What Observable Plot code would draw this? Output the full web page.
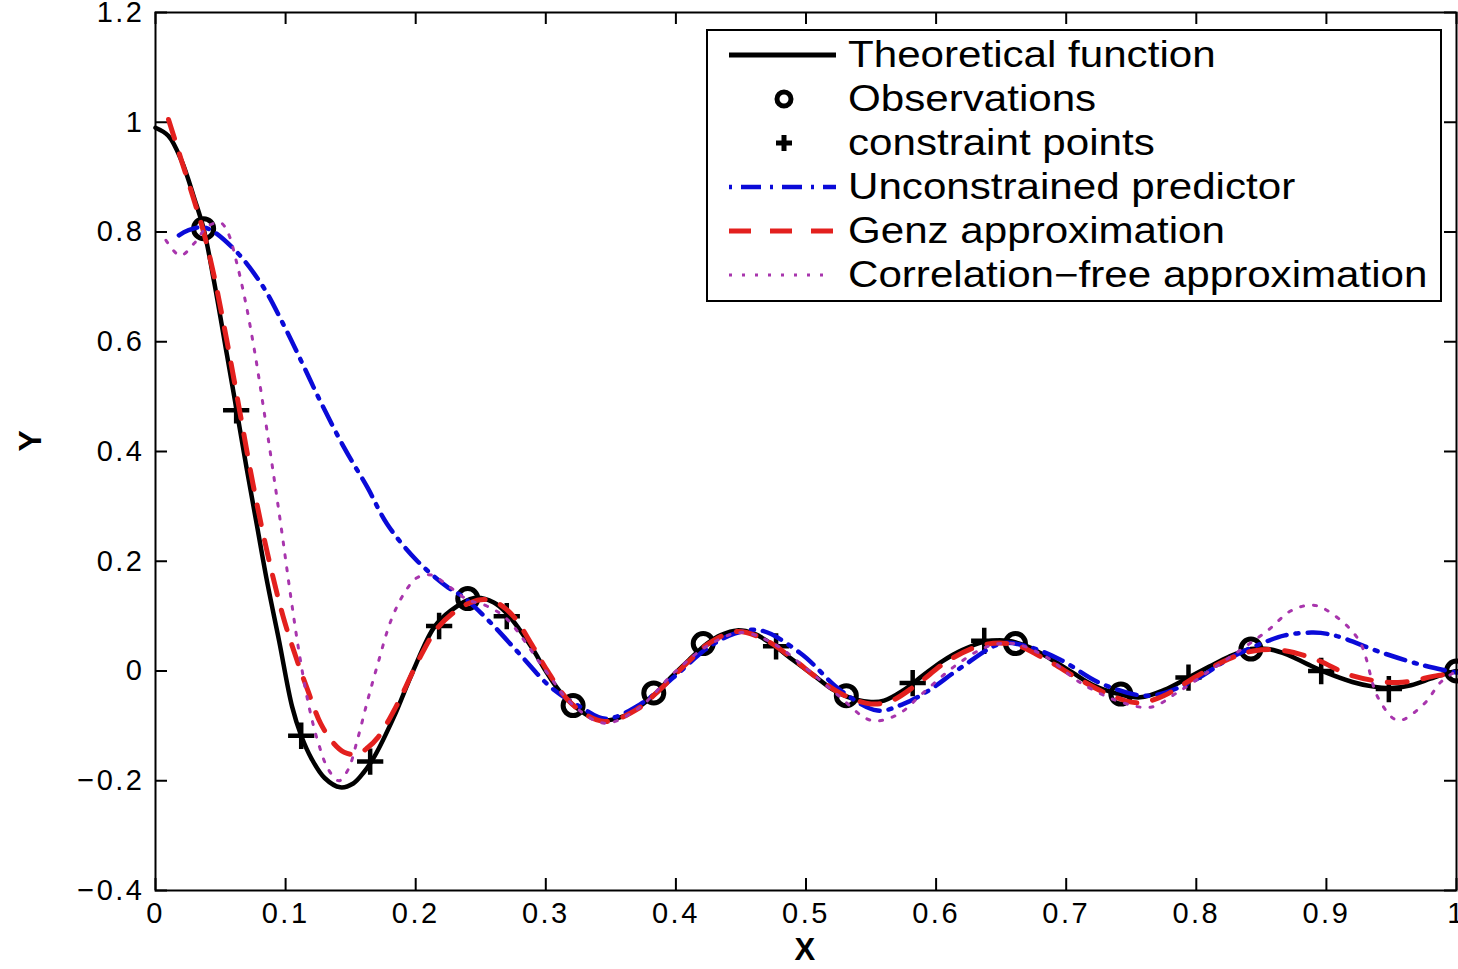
<!DOCTYPE html>
<html><head><meta charset="utf-8">
<script src="https://cdn.jsdelivr.net/npm/d3@7"></script>
<script src="https://cdn.jsdelivr.net/npm/@observablehq/plot@0.6"></script>
<style>
body{margin:0;background:#fff;}
#wrap{position:relative;width:1458px;height:969px;overflow:hidden;background:#fff;}
#legend{position:absolute;left:706px;top:29px;width:732px;height:269px;border:2px solid #000;background:#fff;}
.row{position:absolute;left:0;height:44px;width:100%;}
.row svg{position:absolute;left:0;top:0;overflow:visible;}
.row span{position:absolute;left:140px;top:50%;transform:translateY(-50%) scaleX(1.17);transform-origin:left center;font:36px "Liberation Sans",Arial,sans-serif;white-space:nowrap;line-height:1;color:#000;}
</style></head>
<body><div id="wrap"></div>
<script>
// ---- data ----
const theoX = [0, 0.01, 0.02, 0.03, 0.037, 0.045, 0.055, 0.062, 0.07, 0.078, 0.086, 0.095, 0.105, 0.112, 0.12, 0.13, 0.142, 0.152, 0.16, 0.168, 0.183, 0.198, 0.214, 0.227, 0.245, 0.26, 0.27, 0.28, 0.29, 0.30, 0.31, 0.32, 0.333, 0.345, 0.36, 0.372, 0.385, 0.396, 0.41, 0.424, 0.435, 0.447, 0.46, 0.475, 0.49, 0.506, 0.52, 0.532, 0.548, 0.56, 0.575, 0.59, 0.605, 0.62, 0.637, 0.655, 0.67, 0.688, 0.705, 0.72, 0.742, 0.757, 0.775, 0.794, 0.81, 0.825, 0.842, 0.855, 0.87, 0.885, 0.9, 0.92, 0.935, 0.95, 0.965, 0.98, 0.99, 1.0];
const theoY = [0.99, 0.975, 0.93, 0.86, 0.806, 0.71, 0.575, 0.48, 0.37, 0.265, 0.16, 0.055, -0.065, -0.118, -0.16, -0.195, -0.212, -0.205, -0.185, -0.157, -0.085, 0.0, 0.079, 0.11, 0.133, 0.125, 0.105, 0.075, 0.04, 0.0, -0.035, -0.06, -0.082, -0.09, -0.082, -0.065, -0.04, -0.012, 0.02, 0.05, 0.066, 0.074, 0.068, 0.047, 0.02, -0.008, -0.033, -0.047, -0.056, -0.054, -0.035, -0.008, 0.018, 0.038, 0.053, 0.055, 0.045, 0.022, -0.003, -0.025, -0.043, -0.048, -0.035, -0.012, 0.008, 0.026, 0.04, 0.04, 0.03, 0.013, -0.003, -0.02, -0.028, -0.031, -0.026, -0.014, -0.006, 0.0];

const obsX = [0.037, 0.24, 0.321, 0.383, 0.421, 0.531, 0.661, 0.742, 0.842, 1.0];
const obsY = [0.806, 0.132, -0.063, -0.04, 0.05, -0.045, 0.05, -0.042, 0.04, 0.0];

const conX = [0.062, 0.112, 0.165, 0.218, 0.27, 0.477, 0.582, 0.637, 0.794, 0.896, 0.948];
const conY = [0.475, -0.118, -0.165, 0.082, 0.1, 0.045, -0.022, 0.055, -0.012, 0.0, -0.033];

const uncX = [0.018, 0.025, 0.038, 0.059, 0.082, 0.098, 0.113, 0.127, 0.145, 0.163, 0.178, 0.201, 0.225, 0.237, 0.258, 0.281, 0.304, 0.327, 0.346, 0.373, 0.398, 0.425, 0.445, 0.465, 0.496, 0.527, 0.555, 0.575, 0.594, 0.619, 0.65, 0.67, 0.696, 0.727, 0.763, 0.796, 0.827, 0.85, 0.868, 0.89, 0.906, 0.942, 0.975, 1.0];
const uncY = [0.794, 0.803, 0.808, 0.772, 0.703, 0.633, 0.56, 0.49, 0.407, 0.334, 0.268, 0.201, 0.152, 0.134, 0.087, 0.028, -0.03, -0.066, -0.087, -0.06, -0.012, 0.043, 0.068, 0.074, 0.032, -0.036, -0.072, -0.06, -0.036, 0.006, 0.05, 0.045, 0.02, -0.023, -0.045, -0.02, 0.025, 0.05, 0.065, 0.07, 0.065, 0.034, 0.01, -0.003];

const genzX = [0.01, 0.02, 0.03, 0.037, 0.045, 0.055, 0.065, 0.075, 0.086, 0.098, 0.108, 0.117, 0.127, 0.137, 0.145, 0.155, 0.163, 0.171, 0.186, 0.202, 0.217, 0.235, 0.25, 0.262, 0.275, 0.29, 0.30, 0.32, 0.345, 0.37, 0.385, 0.41, 0.424, 0.447, 0.47, 0.49, 0.51, 0.53, 0.55, 0.565, 0.585, 0.61, 0.637, 0.66, 0.685, 0.71, 0.735, 0.755, 0.775, 0.8, 0.825, 0.845, 0.868, 0.894, 0.919, 0.955, 0.986, 1.0];
const genzY = [1.005, 0.93, 0.855, 0.80, 0.72, 0.6, 0.47, 0.34, 0.215, 0.1, 0.025, -0.035, -0.096, -0.132, -0.148, -0.152, -0.14, -0.121, -0.06, 0.019, 0.079, 0.116, 0.13, 0.125, 0.1, 0.045, 0.005, -0.06, -0.092, -0.07, -0.04, 0.018, 0.048, 0.072, 0.055, 0.022, -0.015, -0.045, -0.06, -0.055, -0.025, 0.02, 0.048, 0.048, 0.02, -0.015, -0.045, -0.058, -0.045, -0.01, 0.022, 0.037, 0.037, 0.019, -0.008, -0.021, -0.008, -0.005];

const cfX = [0.008, 0.019, 0.03, 0.04, 0.05, 0.056, 0.062, 0.069, 0.076, 0.083, 0.09, 0.097, 0.104, 0.111, 0.118, 0.125, 0.133, 0.141, 0.148, 0.155, 0.163, 0.171, 0.181, 0.191, 0.201, 0.212, 0.225, 0.24, 0.255, 0.27, 0.3, 0.32, 0.345, 0.37, 0.4, 0.425, 0.45, 0.475, 0.5, 0.525, 0.55, 0.57, 0.59, 0.615, 0.64, 0.66, 0.685, 0.71, 0.74, 0.765, 0.785, 0.81, 0.835, 0.855, 0.873, 0.89, 0.904, 0.925, 0.94, 0.955, 0.975, 0.988, 1.0];
const cfY = [0.785, 0.757, 0.78, 0.81, 0.817, 0.797, 0.748, 0.675, 0.585, 0.48, 0.37, 0.255, 0.135, 0.025, -0.065, -0.13, -0.18, -0.2, -0.18, -0.127, -0.054, 0.014, 0.092, 0.141, 0.17, 0.175, 0.155, 0.13, 0.118, 0.095, 0.0, -0.06, -0.095, -0.07, 0.0, 0.047, 0.07, 0.05, 0.005, -0.045, -0.09, -0.08, -0.04, 0.01, 0.045, 0.05, 0.025, -0.02, -0.055, -0.066, -0.04, 0.0, 0.04, 0.074, 0.11, 0.12, 0.105, 0.056, -0.05, -0.09, -0.06, -0.02, 0.0];

const xTicks = [0, 0.1, 0.2, 0.3, 0.4, 0.5, 0.6, 0.7, 0.8, 0.9, 1];
const xTickLabels = ["0", "0.1", "0.2", "0.3", "0.4", "0.5", "0.6", "0.7", "0.8", "0.9", "1"];
const yTicks = [-0.4, -0.2, 0, 0.2, 0.4, 0.6, 0.8, 1, 1.2];
const yTickLabels = ["\u22120.4", "\u22120.2", "0", "0.2", "0.4", "0.6", "0.8", "1", "1.2"];
const xLabel = "X";
const yLabel = "Y";
const seriesNames = ["Theoretical function", "Observations", "constraint points", "Unconstrained predictor", "Genz approximation", "Correlation\u2212free approximation"];

// ---- build ----
const pts = (xs, ys) => xs.map((x, i) => ({x, y: ys[i]}));
const theo = pts(theoX, theoY), obs = pts(obsX, obsY), con = pts(conX, conY);
const unc = pts(uncX, uncY), genz = pts(genzX, genzY), cf = pts(cfX, cfY);

const W = 1458, H = 969, mL = 155, mR = 2, mT = 12, mB = 79;
const innerW = W - mL - mR, innerH = H - mT - mB, tk = 12;
const font = "'Liberation Sans', Arial, sans-serif";
const BLUE = "#0a0ad8", RED = "#e3201e", MAG = "#a835ad";

const chart = Plot.plot({
  width: W, height: H,
  marginLeft: mL, marginRight: mR, marginTop: mT, marginBottom: mB,
  style: {fontFamily: font, background: "#fff", color: "#000", letterSpacing: "2.5px"},
  x: {domain: [0, 1]},
  y: {domain: [-0.4, 1.2]},
  marks: [
    Plot.axisX({ticks: xTicks, tickFormat: d => xTickLabels[xTicks.indexOf(d)], tickSize: 0, tickPadding: 12, fontSize: 29, label: null}),
    Plot.axisY({ticks: yTicks, tickFormat: d => yTickLabels[yTicks.findIndex(t => Math.abs(t - d) < 1e-9)], tickSize: 0, tickPadding: 11, fontSize: 29, label: null}),
    Plot.tickX(xTicks, {x: d => d, insetTop: innerH - tk, stroke: "#000", strokeWidth: 2}),
    Plot.tickX(xTicks, {x: d => d, insetBottom: innerH - tk, stroke: "#000", strokeWidth: 2}),
    Plot.tickY(yTicks, {y: d => d, insetRight: innerW - tk, stroke: "#000", strokeWidth: 2}),
    Plot.tickY(yTicks, {y: d => d, insetLeft: innerW - tk, stroke: "#000", strokeWidth: 2}),
    Plot.line(theo, {x: "x", y: "y", stroke: "#000", strokeWidth: 4.5, curve: "catmull-rom"}),
    Plot.dot(obs, {x: "x", y: "y", r: 10, stroke: "#000", strokeWidth: 5, fill: "none"}),
    Plot.dot(con, {x: "x", y: "y", symbol: "plus", r: 8.5, stroke: "#000", strokeWidth: 4.5}),
    Plot.line(unc, {x: "x", y: "y", stroke: BLUE, strokeWidth: 4.5, strokeDasharray: "20,9,3,9", curve: "catmull-rom"}),
    Plot.line(genz, {x: "x", y: "y", stroke: RED, strokeWidth: 5, strokeDasharray: "20,16", curve: "catmull-rom"}),
    Plot.line(cf, {x: "x", y: "y", stroke: MAG, strokeWidth: 3, strokeDasharray: "3,10", curve: "catmull-rom"}),
    Plot.frame({stroke: "#000", strokeWidth: 2}),
    Plot.text([xLabel], {frameAnchor: "bottom", dy: 69, fontSize: 31, fontWeight: "bold", fill: "#000"}),
    Plot.text([yLabel], {frameAnchor: "left", dx: -125, rotate: -90, fontSize: 32, fontWeight: "bold", fill: "#000"})
  ]
});
const wrap = document.getElementById("wrap");
wrap.appendChild(chart);

// ---- legend ----
const legend = document.createElement("div");
legend.id = "legend";
const samples = [
  `<line x1="21" x2="128" y1="22" y2="22" stroke="#000" stroke-width="5"/>`,
  `<circle cx="76" cy="22" r="7" fill="none" stroke="#000" stroke-width="5"/>`,
  `<path d="M76,14V30M68,22H84" stroke="#000" stroke-width="5"/>`,
  `<line x1="21" x2="128" y1="22" y2="22" stroke="${BLUE}" stroke-width="4.5" stroke-dasharray="3,9,20,9"/>`,
  `<line x1="21" x2="128" y1="22" y2="22" stroke="${RED}" stroke-width="5" stroke-dasharray="22,19"/>`,
  `<line x1="21" x2="122" y1="22" y2="22" stroke="${MAG}" stroke-width="3" stroke-dasharray="3,10"/>`
];
seriesNames.forEach((name, i) => {
  const row = document.createElement("div");
  row.className = "row";
  row.style.top = (2 + i * 44) + "px";
  row.innerHTML = `<svg width="140" height="44">${samples[i]}</svg><span>${name}</span>`;
  legend.appendChild(row);
});
wrap.appendChild(legend);
</script></body></html>
